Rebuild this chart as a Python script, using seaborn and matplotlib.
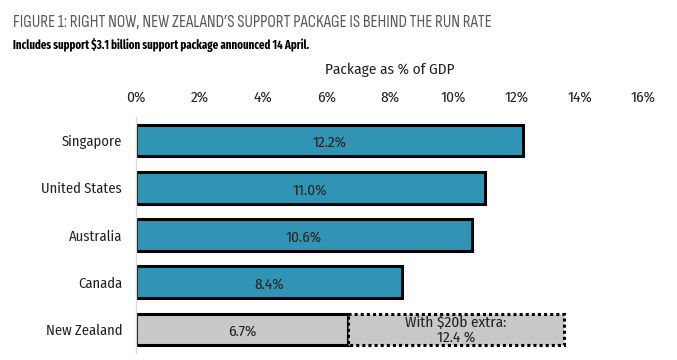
import matplotlib.pyplot as plt
import pandas as pd
import seaborn as sns

COUNTRIES = ["Singapore", "United States", "Australia", "Canada", "New Zealand"]
PACKAGE_PCT = [12.2, 11.0, 10.6, 8.4, 6.7]
BAR_COLORS = ["#3194b4", "#3194b4", "#3194b4", "#3194b4", "#c8c8ca"]
NZ_EXTRA_END = 13.5
NZ_EXTRA_LABEL = "With $20b extra:\n12.4 %"
X_TICKS = [0, 2, 4, 6, 8, 10, 12, 14, 16]

TITLE = "FIGURE 1: RIGHT NOW, NEW ZEALAND\u2019S SUPPORT PACKAGE IS BEHIND THE RUN RATE"
SUBTITLE = "Includes support $3.1 billion support package announced 14 April."

FONT = ["Fira Sans Condensed", "DejaVu Sans"]
TITLE_FONT = ["Sofia Sans Condensed", "Fira Sans Condensed", "DejaVu Sans"]
SUB_FONT = ["Fira Sans Extra Condensed", "Open Sans Condensed", "DejaVu Sans"]


def main() -> None:
    sns.set_theme(style="white")
    plt.rcParams["font.family"] = FONT

    df = pd.DataFrame({"country": COUNTRIES, "pct": PACKAGE_PCT})

    fig = plt.figure(figsize=(6.77, 3.6), dpi=100)
    ax = fig.add_axes([0.2009, 0.0194, 0.7489, 0.6556])

    sns.barplot(
        data=df,
        x="pct",
        y="country",
        hue="country",
        palette=BAR_COLORS,
        saturation=1,
        orient="h",
        width=0.67,
        edgecolor="black",
        linewidth=2.2,
        legend=False,
        ax=ax,
    )

    nz_idx = COUNTRIES.index("New Zealand")
    nz_val = PACKAGE_PCT[nz_idx]
    ax.barh(
        nz_idx,
        NZ_EXTRA_END - nz_val,
        left=nz_val,
        height=0.67,
        color="#c8c8ca",
        edgecolor="black",
        linewidth=2.2,
        linestyle=(0, (1, 1)),
        zorder=1,
    )

    for i, val in enumerate(PACKAGE_PCT):
        ax.text(val / 2, i + 0.05, f"{val:.1f}%", ha="center", va="center",
                fontsize=11, color="#222222")
    ax.text((nz_val + NZ_EXTRA_END) / 2, nz_idx + 0.02, NZ_EXTRA_LABEL,
            ha="center", va="center", fontsize=11, color="#222222", linespacing=1.1)

    ax.set_xlim(0, 16)
    ax.set_ylim(len(COUNTRIES) - 0.5, -0.5)
    ax.xaxis.tick_top()
    ax.xaxis.set_label_position("top")
    ax.set_xticks(X_TICKS)
    ax.set_xticklabels([f"{t}%" for t in X_TICKS])
    ax.tick_params(axis="x", length=0, pad=9, labelsize=11, colors="#222222")
    ax.tick_params(axis="y", length=0, pad=10, labelsize=10.5, colors="#222222")
    ax.set_xlabel("Package as % of GDP", fontsize=11, labelpad=12, color="#222222")
    ax.set_ylabel("")

    for side in ["top", "right", "bottom"]:
        ax.spines[side].set_visible(False)
    ax.spines["left"].set_color("#d9d9d9")
    ax.spines["left"].set_linewidth(1)

    fig.text(0.019, 0.938, TITLE, fontsize=12.3, color="#595959", family=TITLE_FONT,
             va="center", ha="left")
    fig.text(0.019, 0.875, SUBTITLE, fontsize=8.5, color="black", weight="bold",
             family=SUB_FONT, va="center", ha="left")

    fig.savefig("out.png", dpi=100)
    plt.close(fig)


if __name__ == "__main__":
    main()
